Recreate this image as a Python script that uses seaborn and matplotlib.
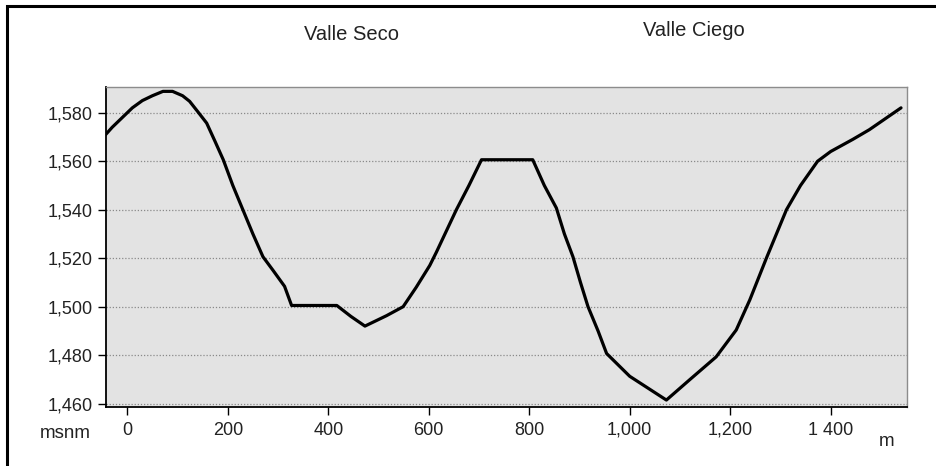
import matplotlib
matplotlib.use("Agg")
import matplotlib.pyplot as plt
import seaborn as sns
import pandas as pd
from matplotlib.patches import Rectangle

distance_m = [-43, -30, -10, 10, 30, 50, 71, 90, 110, 124, 140, 158, 175, 191, 210,
              230, 250, 270, 290, 313, 327, 417, 445, 473, 516, 549, 575, 602, 615,
              655, 680, 705, 807, 830, 854, 870, 887, 902, 917, 937, 954, 1000,
              1073, 1120, 1172, 1212, 1239, 1272, 1312, 1340, 1374, 1400, 1444,
              1477, 1540]
elevation_msnm = [1571, 1574, 1578, 1582, 1585, 1587, 1588.8, 1588.8, 1587, 1584.7,
                  1580.5, 1575.7, 1568, 1560.6, 1550, 1540, 1530, 1520.6, 1515,
                  1508.4, 1500.5, 1500.5, 1496, 1492, 1496.3, 1500, 1508, 1517,
                  1522.4, 1540, 1550, 1560.6, 1560.6, 1550, 1540.7, 1530, 1520.6,
                  1510, 1500, 1490, 1480.7, 1471.3, 1461.5, 1470, 1479.3, 1490.4,
                  1502.8, 1520, 1540, 1550, 1560, 1564, 1569, 1573, 1582]

x_ticks = [0, 200, 400, 600, 800, 1000, 1200, 1400]
x_tick_labels = ["0", "200", "400", "600", "800", "1,000", "1,200", "1 400"]
y_ticks = [1460, 1480, 1500, 1520, 1540, 1560, 1580]
y_tick_labels = ["1,460", "1,480", "1,500", "1,520", "1,540", "1,560", "1,580"]
place_names = ["Valle Seco", "Valle Ciego"]

df = pd.DataFrame({"distance": distance_m, "elevation": elevation_msnm})

sns.set_theme(style="white")
plt.rcParams["font.family"] = ["Liberation Sans", "DejaVu Sans"]

W, H = 937, 466
fig = plt.figure(figsize=(W / 100, H / 100), dpi=100)
ax = fig.add_axes([106 / W, 1 - 406.7 / H, (906.7 - 106) / W, (406.7 - 87) / H])
ax.set_facecolor("#e3e3e3")

sns.lineplot(data=df, x="distance", y="elevation", ax=ax, color="black",
             linewidth=2.3, sort=False, estimator=None)

ax.set_xlim(-42.4, 1551.3)
ax.set_ylim(1458.76, 1590.6)
ax.set_xticks(x_ticks)
ax.set_xticklabels(x_tick_labels)
ax.set_yticks(y_ticks)
ax.set_yticklabels(y_tick_labels)
ax.set_xlabel("")
ax.set_ylabel("")

ax.yaxis.grid(True, linestyle=(0, (1, 1.5)), color="#8a8a8a", linewidth=0.9)
ax.xaxis.grid(False)
ax.set_axisbelow(True)

for side in ["left", "bottom"]:
    ax.spines[side].set_color("black")
    ax.spines[side].set_linewidth(1.3)
for side in ["top", "right"]:
    ax.spines[side].set_color("#8c8c8c")
    ax.spines[side].set_linewidth(1.0)

ax.tick_params(axis="both", which="major", direction="out", length=6, width=1.0,
               color="black", labelsize=13, labelcolor="#222222")
ax.tick_params(axis="y", pad=3.5, left=True)
ax.tick_params(axis="x", pad=5, bottom=True)

fig.text(352 / W, 1 - 35 / H, place_names[0], ha="center", va="center",
         fontsize=14.5, color="#222222")
fig.text(694 / W, 1 - 31 / H, place_names[1], ha="center", va="center",
         fontsize=14.5, color="#222222")
fig.text(65 / W, 1 - 434 / H, "msnm", ha="center", va="center",
         fontsize=13.5, color="#222222")
fig.text(887 / W, 1 - 442 / H, "m", ha="center", va="center",
         fontsize=13.5, color="#222222")

# outer frame (left and top edges visible)
fig.add_artist(Rectangle((7 / W, -0.1), 1.2, 1.1 - 6 / H,
                         transform=fig.transFigure, fill=False,
                         edgecolor="black", linewidth=2.2))

fig.savefig("out.png", dpi=100, facecolor="white")
